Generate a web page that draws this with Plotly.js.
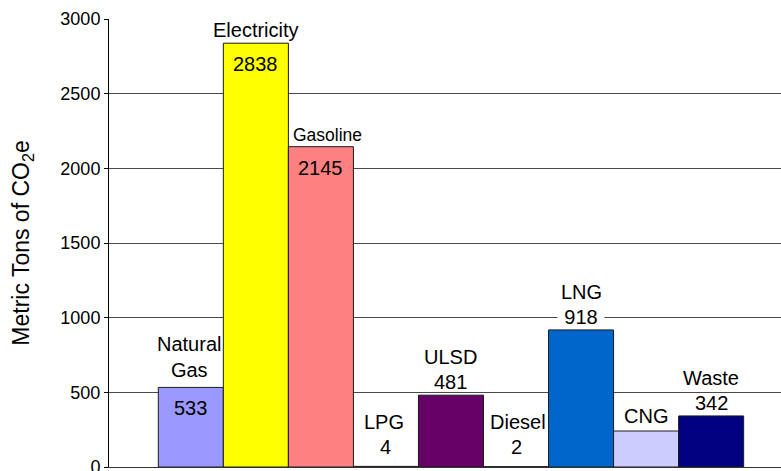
<!DOCTYPE html>
<html>
<head>
<meta charset="utf-8">
<script src="https://cdn.plot.ly/plotly-3.0.1.min.js"></script>
<style>html,body{margin:0;padding:0;background:#fff;}#chart{width:781px;height:471px;}</style>
</head>
<body>
<div id="chart"></div>
<script>
// ---- data ----
const categories = ['Natural Gas', 'Electricity', 'Gasoline', 'LPG', 'ULSD', 'Diesel', 'LNG', 'CNG', 'Waste'];
const labelNames = ['Natural<br>Gas', 'Electricity', 'Gasoline', 'LPG', 'ULSD', 'Diesel', 'LNG', 'CNG', 'Waste'];
const values = [533, 2838, 2145, 4, 481, 2, 918, 241, 342];
const valueLabels = ['533', '2838', '2145', '4', '481', '2', '918', '', '342'];
const yTicks = [0, 500, 1000, 1500, 2000, 2500, 3000];

// ---- styles ----
const barColors = ['#9999FF', '#FFFF00', '#FF8080', '#CCFFFF', '#660066', '#993366', '#0066CC', '#CCCCFF', '#000080'];
const valueInside = [true, true, true, false, false, false, false, false, false];
const nameFontSize = [20, 20, 17.5, 20, 20, 20, 20, 20, 20];
const nameXShift = [-2, 0, 7, -2, 0, 2, 0, 0, 0];
const valueBgOn = [false, false, false, false, false, false, true, false, false];

const FONT = '"Liberation Sans", Arial, Helvetica, sans-serif';
const xs = categories.map((c, i) => i);

const plotH = 471 - 19 - 4;
const pxPerUnit = plotH / 3000;
const minBase = 7 / pxPerUnit; // tiny bars: labels keep a small distance from the axis

const annotations = [];
categories.forEach((c, i) => {
  const v = values[i];
  const multi = labelNames[i].indexOf('<br>') >= 0;
  if (valueInside[i]) {
    annotations.push({x: i, y: v, xref: 'x', yref: 'y', text: valueLabels[i], showarrow: false,
      yanchor: 'middle', yshift: -21, font: {family: FONT, size: 20, color: '#000'}});
    annotations.push({x: i, y: v, xref: 'x', yref: 'y', text: labelNames[i], showarrow: false,
      yanchor: 'bottom', yshift: multi ? 4 : 0, xshift: nameXShift[i],
      font: {family: FONT, size: nameFontSize[i], color: '#000'}});
  } else {
    const base = Math.max(v, minBase);
    const hasVal = valueLabels[i] !== '';
    if (hasVal) {
      const a = {x: i, y: base, xref: 'x', yref: 'y', text: valueLabels[i], showarrow: false,
        yanchor: 'middle', yshift: 13, font: {family: FONT, size: 20, color: '#000'}};
      if (valueBgOn[i]) { a.bgcolor = '#ffffff'; a.borderpad = 0; a.width = 46; a.height = 18; }
      annotations.push(a);
    }
    annotations.push({x: i, y: base, xref: 'x', yref: 'y', text: labelNames[i], showarrow: false,
      yanchor: 'middle', yshift: hasVal ? 38 : 15, xshift: nameXShift[i],
      font: {family: FONT, size: nameFontSize[i], color: '#000'}});
  }
});

const trace = {
  type: 'bar',
  x: xs,
  y: values,
  width: 1,
  marker: {color: barColors, line: {color: '#1a1a1a', width: 1}},
  hoverinfo: 'none',
  cliponaxis: false
};

const layout = {
  width: 781,
  height: 471,
  margin: {l: 109, r: 0, t: 19, b: 4, pad: 0},
  paper_bgcolor: '#ffffff',
  plot_bgcolor: '#ffffff',
  showlegend: false,
  font: {family: FONT, color: '#000'},
  xaxis: {
    type: 'linear',
    range: [-1.258, 9.074],
    showgrid: false,
    zeroline: false,
    showline: true,
    linecolor: '#333333',
    linewidth: 1,
    showticklabels: false,
    ticks: '',
    fixedrange: true
  },
  yaxis: {
    range: [0, 3000],
    tickvals: yTicks,
    ticktext: yTicks.map(String),
    showgrid: true,
    gridcolor: '#4a4a4a',
    gridwidth: 1,
    zeroline: false,
    showline: true,
    linecolor: '#000000',
    linewidth: 1,
    ticks: 'outside',
    ticklen: 4,
    tickcolor: '#000000',
    ticklabeloverflow: 'allow',
    tickfont: {family: FONT, size: 18, color: '#000'},
    title: {text: 'Metric Tons of CO<sub>2</sub>e', font: {family: FONT, size: 23, color: '#000'}, standoff: 24},
    fixedrange: true
  },
  annotations: annotations
};

Plotly.newPlot('chart', [trace], layout, {displayModeBar: false, staticPlot: true});
</script>
</body>
</html>
